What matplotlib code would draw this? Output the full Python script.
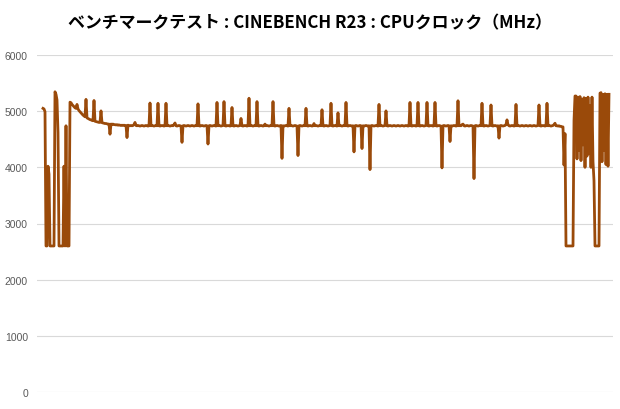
import matplotlib
matplotlib.use("Agg")
import matplotlib.pyplot as plt
import numpy as np

TITLE = "ベンチマークテスト : CINEBENCH R23 : CPUクロック（MHz）"

# CPU clock samples (MHz) from left to right
clock = [
    5050, 5040, 4990, 2600, 2600, 4020, 3880, 2600, 2600, 2600, 2600, 2600, 5345, 5300, 5200, 4620, 2600, 2600, 2600, 2600,
    2600, 4020, 2600, 4740, 2600, 2600, 2600, 5160, 5150, 5120, 5100, 5080, 5060, 5050, 5120, 5040, 5010, 4990, 4970, 4950,
    4930, 4915, 4900, 5210, 4880, 4870, 4860, 4850, 4845, 4835, 4830, 5190, 4820, 4815, 4810, 4805, 4800, 4800, 5005, 4795,
    4790, 4785, 4780, 4780, 4775, 4770, 4770, 4590, 4770, 4765, 4770, 4760, 4760, 4755, 4760, 4750, 4755, 4750, 4745, 4750,
    4745, 4750, 4745, 4745, 4530, 4750, 4745, 4740, 4745, 4740, 4745, 4760, 4800, 4745, 4740, 4745, 4740, 4735, 4740, 4745,
    4740, 4735, 4740, 4745, 4740, 4735, 4740, 5145, 4740, 4745, 4740, 4735, 4740, 4745, 4740, 5140, 4740, 4735, 4740, 4745,
    4740, 4735, 4740, 5140, 4740, 4745, 4740, 4735, 4740, 4745, 4740, 4760, 4790, 4740, 4735, 4740, 4745, 4740, 4735, 4445,
    4740, 4745, 4740, 4735, 4740, 4745, 4740, 4735, 4740, 4745, 4740, 4735, 4740, 4745, 4740, 5130, 4740, 4735, 4740, 4745,
    4740, 4735, 4740, 4745, 4740, 4415, 4740, 4745, 4740, 4735, 4740, 4745, 4740, 4735, 5155, 4740, 4745, 4740, 4735, 4740,
    4745, 5170, 4740, 4735, 4740, 4745, 4740, 4735, 4740, 5065, 4740, 4735, 4740, 4745, 4740, 4735, 4740, 4745, 4870, 4740,
    4735, 4740, 4745, 4740, 4735, 4740, 5230, 4740, 4745, 4740, 4735, 4740, 4745, 4740, 5170, 4740, 4735, 4740, 4745, 4740,
    4735, 4740, 4770, 4740, 4745, 4740, 4735, 4740, 4745, 4740, 5170, 4740, 4735, 4740, 4745, 4740, 4735, 4740, 4745, 4160,
    4740, 4735, 4740, 4745, 4740, 4735, 5050, 4740, 4745, 4740, 4735, 4740, 4745, 4740, 4735, 4210, 4740, 4745, 4740, 4735,
    4740, 4745, 4740, 5050, 4740, 4735, 4740, 4745, 4740, 4735, 4740, 4780, 4740, 4745, 4740, 4735, 4740, 4745, 4740, 5025,
    4740, 4735, 4740, 4745, 4740, 4735, 4740, 4745, 5140, 4740, 4735, 4740, 4745, 4740, 4735, 4970, 4740, 4745, 4740, 4735,
    4740, 4745, 4740, 5155, 4740, 4735, 4740, 4745, 4740, 4735, 4740, 4275, 4740, 4745, 4740, 4735, 4740, 4745, 4740, 4335,
    4740, 4735, 4740, 4745, 4740, 4735, 4740, 3960, 4740, 4745, 4740, 4735, 4740, 4745, 4740, 4735, 5120, 4740, 4745, 4740,
    4735, 4740, 4745, 5005, 4740, 4735, 4740, 4745, 4740, 4735, 4740, 4745, 4740, 4735, 4740, 4745, 4740, 4735, 4740, 4745,
    4740, 4735, 4740, 4745, 4740, 4735, 4740, 5155, 4740, 4735, 4740, 4745, 4740, 4735, 4740, 5155, 4740, 4735, 4740, 4745,
    4740, 4735, 4740, 4745, 5155, 4740, 4735, 4740, 4745, 4740, 4735, 4740, 5155, 4740, 4735, 4740, 4745, 4740, 4735, 3990,
    4740, 4745, 4740, 4735, 4740, 4745, 4740, 4460, 4740, 4735, 4740, 4745, 4740, 4735, 4740, 5185, 4740, 4745, 4740, 4760,
    4770, 4740, 4735, 4740, 4745, 4740, 4735, 4740, 4745, 4740, 4735, 3800, 4740, 4745, 4740, 4735, 4740, 4745, 4740, 5140,
    4740, 4735, 4740, 4745, 4740, 4735, 4740, 4745, 5110, 4740, 4735, 4740, 4745, 4740, 4735, 4740, 4520, 4740, 4745, 4740,
    4735, 4740, 4745, 4760, 4845, 4760, 4740, 4735, 4740, 4745, 4740, 4735, 4740, 5120, 4740, 4745, 4740, 4735, 4740, 4745,
    4740, 4735, 4740, 4745, 4740, 4735, 4740, 4745, 4740, 4735, 4740, 4745, 4740, 4735, 4740, 4745, 5110, 4740, 4735, 4740,
    4745, 4740, 4735, 4740, 5140, 4740, 4745, 4740, 4735, 4740, 4745, 4760, 4785, 4740, 4740, 4735, 4740, 4730, 4730, 4720,
    4720, 4040, 4600, 2600, 2600, 2600, 2600, 2600, 2600, 2600, 2600, 4830, 5270, 5270, 4150, 5250, 4300, 5260, 4120, 5200,
    4400, 5240, 4000, 5230, 4200, 5250, 4250, 5100, 4000, 5250, 4100, 3760, 2600, 2600, 2600, 2600, 2600, 5320, 5330, 4100,
    5300, 4300, 5310, 4050, 5300, 4020, 5300,
]

y_ticks = [0, 1000, 2000, 3000, 4000, 5000, 6000]

fig = plt.figure(figsize=(6.2, 4.1), dpi=100)
ax = fig.add_axes([37 / 620, 1 - 393 / 410, 576 / 620, 337 / 410])

x = np.arange(len(clock))
ax.plot(x, clock, color="#9A4A0A", linewidth=2.0, solid_joinstyle="round")

ax.set_xlim(-6, len(clock) + 3)
ax.set_ylim(0, 6000)
ax.set_yticks(y_ticks)
ax.set_yticklabels([str(t) for t in y_ticks], fontfamily="Liberation Sans",
                   fontsize=7.5, color="#595959")
ax.set_xticks([])
ax.tick_params(axis="y", length=0, pad=6.5)
ax.grid(axis="y", color="#d9d9d9", linewidth=0.8)
ax.set_axisbelow(True)
for s in ax.spines.values():
    s.set_visible(False)

fig.text(0.5, 1 - 23 / 410, TITLE, ha="center", va="center",
         fontsize=12.2, fontweight="bold", color="#000000",
         family=["Noto Sans CJK JP", "DejaVu Sans"])

fig.savefig("out.png", dpi=100)
